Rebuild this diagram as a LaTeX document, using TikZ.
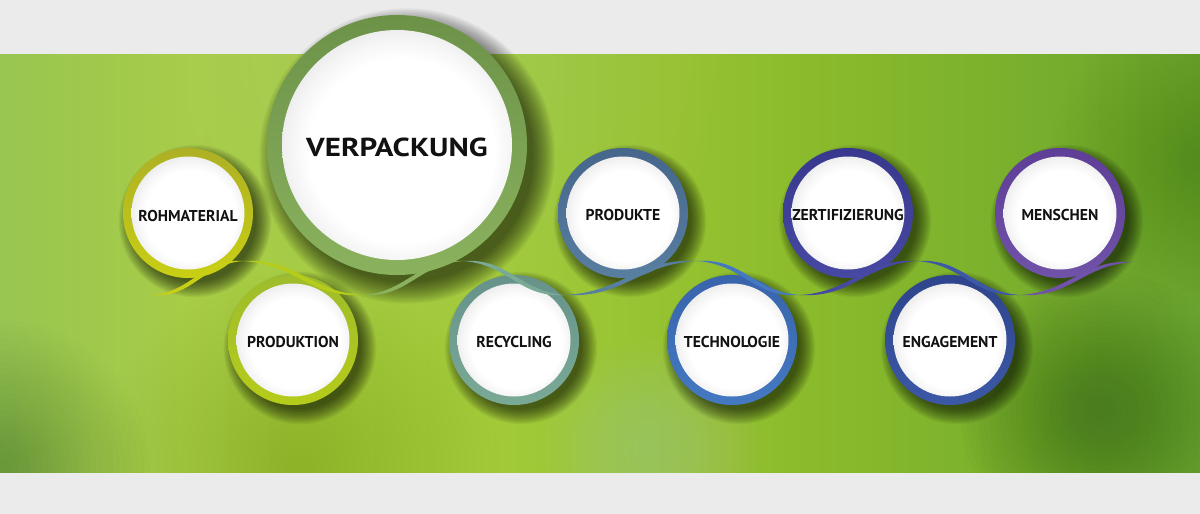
\documentclass[tikz,border=0pt]{standalone}
\usepackage{fontspec}
\setmainfont{PT Sans}
\usetikzlibrary{calc}
\definecolor{bggray}{HTML}{EBEBEB}
\definecolor{g0}{HTML}{98C652}
\definecolor{g1}{HTML}{A8CC46}
\definecolor{g2}{HTML}{A2CA38}
\definecolor{g3}{HTML}{8CBC2C}
\definecolor{g4}{HTML}{7AB02C}
\definecolor{g5}{HTML}{6CA430}
\definecolor{rohA}{HTML}{ADB024}\definecolor{rohB}{HTML}{C9CF14}
\definecolor{prodA}{HTML}{9EBC2C}\definecolor{prodB}{HTML}{B6CC1A}
\definecolor{verA}{HTML}{6C9248}\definecolor{verB}{HTML}{8AB25E}
\definecolor{recA}{HTML}{66928A}\definecolor{recB}{HTML}{7AAA96}
\definecolor{pdkA}{HTML}{46668C}\definecolor{pdkB}{HTML}{587EA0}
\definecolor{tecA}{HTML}{3864AC}\definecolor{tecB}{HTML}{4479C2}
\definecolor{zerA}{HTML}{38388E}\definecolor{zerB}{HTML}{4648A2}
\definecolor{engA}{HTML}{2E448C}\definecolor{engB}{HTML}{3C58A6}
\definecolor{menA}{HTML}{5E3E96}\definecolor{menB}{HTML}{7052A8}
\definecolor{txt}{HTML}{111111}
\definecolor{lightblob}{HTML}{C4DE78}
\definecolor{paleblob}{HTML}{B4D488}
\definecolor{darkblob}{HTML}{2E5E1E}
\pgfdeclarehorizontalshading{bgh}{100bp}{color(0bp)=(g0); color(25bp)=(g0); color(33bp)=(g1); color(46bp)=(g2); color(58bp)=(g3); color(67bp)=(g4); color(75bp)=(g5); color(100bp)=(g5)}
\pgfdeclareradialshading{innerw}{\pgfpoint{2bp}{-2.5bp}}{color(0bp)=(white); color(20bp)=(white); color(24bp)=(black!4); color(29bp)=(black!11); color(40bp)=(black!11)}
\tikzset{
  ringnode/.style={circle, inner sep=0pt, draw=none},
  discnode/.style={circle, inner sep=0pt, draw=none, shading=innerw},
  lbl/.style={font=\bfseries\fontsize{15.7}{17}\selectfont, text=txt, inner sep=0pt},
  biglbl/.style={font=\bfseries\fontsize{26}{28}\selectfont, text=txt, inner sep=0pt},
}
% soft blob: x, y, radius, colour, opacity per layer
\newcommand\blob[5]{%
  \foreach \k in {0,...,23}{\fill[#4, opacity=#5] (#1,#2) circle[radius={#3*(1-\k/25)}];}%
}
% soft shadow: x, y, radius, offset
\newcommand\softshadow[4]{%
  \foreach \k in {0,...,13}{\fill[black, opacity=0.05] ({#1+#4},{#2+#4+1}) circle[radius={#3-4+\k*(#4/6)}];}%
}
\newcommand\bubble[8]{%
  \softshadow{#2}{#3}{#4/2}{#8}
  \node[ringnode, minimum size=#4pt, top color=#5, bottom color=#6] (#1-ring) at (#2,#3) {};
  \node[discnode, minimum size=#4pt-#7pt] (#1-disc) at (#2,#3) {};
}
\newcommand\ribseg[3]{%
  \fill[#3] let \p1=(#1), \p2=(#2), \n1={0.45*(\x2-\x1)} in
    (\p1) .. controls (\x1+\n1,\y1+3.2pt) and (\x2-\n1,\y2+3.2pt) .. (\p2)
          .. controls (\x2-\n1,\y2-3.2pt) and (\x1+\n1,\y1-3.2pt) .. (\p1) -- cycle;
}
\begin{document}
\begin{tikzpicture}[x=1pt,y=-1pt]
\useasboundingbox (0,0) rectangle (1200,514);
\fill[bggray] (0,0) rectangle (1200,514);
\shade[shading=bgh] (0,54) rectangle (1200,472);
\begin{scope}
  \clip (0,54) rectangle (1200,472);
  \blob{430}{40}{300}{lightblob}{0.025}
  \blob{60}{260}{160}{lightblob}{0.02}
  \blob{650}{450}{110}{paleblob}{0.035}
  \blob{1100}{410}{140}{darkblob}{0.028}
  \blob{0}{470}{150}{darkblob}{0.014}
  \blob{1200}{160}{150}{darkblob}{0.012}
  \blob{300}{470}{200}{darkblob}{0.008}
\end{scope}
% ribbon points
\coordinate (r0) at (152,295);
\coordinate (r1) at (243,261);
\coordinate (r2) at (363,295);
\coordinate (r3) at (463,261);
\coordinate (r4) at (565,295);
\coordinate (r5) at (697,261);
\coordinate (r6) at (800,295);
\coordinate (r7) at (917,261);
\coordinate (r8) at (1020,295);
\coordinate (r9) at (1133,262);
% bubbles
\bubble{roh}{188}{213}{130}{rohA}{rohB}{17}{7}
\bubble{prod}{293}{340}{130}{prodA}{prodB}{17}{7}
\bubble{ver}{397}{145}{260}{verA}{verB}{30}{10}
\bubble{rec}{514}{340}{130}{recA}{recB}{17}{7}
\bubble{pdk}{623}{213}{130}{pdkA}{pdkB}{17}{7}
\bubble{tec}{732}{340}{130}{tecA}{tecB}{17}{7}
\bubble{zer}{848}{213}{130}{zerA}{zerB}{17}{7}
\bubble{eng}{950}{340}{130}{engA}{engB}{17}{7}
\bubble{men}{1060}{213}{130}{menA}{menB}{17}{7}
% ribbon
\ribseg{r0}{r1}{rohB}
\ribseg{r1}{r2}{prodB}
\ribseg{r2}{r3}{verB}
\ribseg{r3}{r4}{recB}
\ribseg{r4}{r5}{pdkB}
\ribseg{r5}{r6}{tecB}
\ribseg{r6}{r7}{zerB}
\ribseg{r7}{r8}{engB}
\ribseg{r8}{r9}{menB}
% labels
\node[lbl] (roh) at (188,216.5) {ROHMATERIAL};
\node[lbl] (prod) at (293,342.5) {PRODUKTION};
\node[biglbl] (ver) at (397,147.5) {\scalebox{1.19}[1]{VERPACKUNG}};
\node[lbl] (rec) at (514,342.5) {RECYCLING};
\node[lbl] (pdk) at (623,215.5) {PRODUKTE};
\node[lbl] (tec) at (732,342.5) {TECHNOLOGIE};
\node[lbl] (zer) at (848,215.5) {ZERTIFIZIERUNG};
\node[lbl] (eng) at (950,342.5) {ENGAGEMENT};
\node[lbl] (men) at (1060,215.5) {MENSCHEN};
\end{tikzpicture}
\end{document}
